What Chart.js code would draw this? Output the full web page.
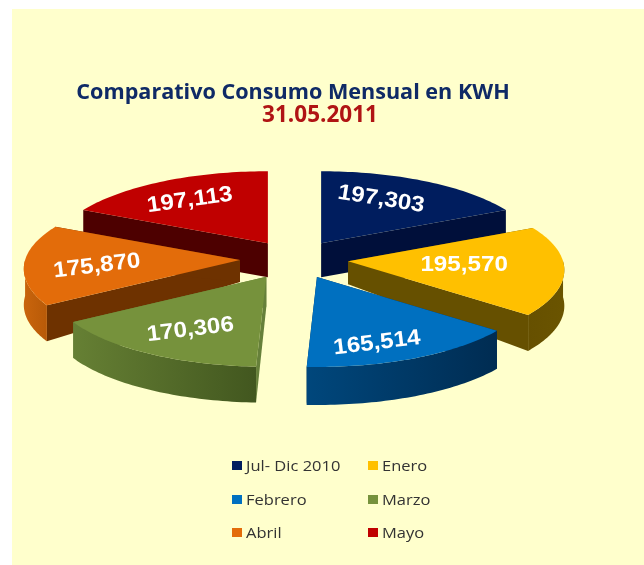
<!DOCTYPE html>
<html><head><meta charset="utf-8">
<style>
html,body{margin:0;padding:0;background:#fff;width:644px;height:565px;overflow:hidden}
#panel{position:absolute;left:12px;top:9px;right:0;bottom:0;background:#ffffcc}
#wrap{position:absolute;left:0;top:0;width:644px;height:565px}
#legend{position:absolute;left:0;top:0;font:15px "Open Sans",sans-serif;color:#333}
.it{position:absolute;white-space:nowrap;line-height:18px;transform:scaleX(1.1);transform-origin:0 50%}
.sw{position:absolute;width:10px;height:9px}
</style>
</head><body>
<div id="panel"></div>
<div id="wrap"><canvas id="c" width="644" height="565"></canvas></div>
<div id="legend"></div>
<script src="https://cdn.jsdelivr.net/npm/chart.js@4/dist/chart.umd.min.js"></script>
<script>
const categories = ["Jul- Dic 2010","Enero","Febrero","Marzo","Abril","Mayo"];
const consumo = [197303,195570,165514,170306,175870,197113];
const colores = ["#001d5e","#ffc000","#0070c0","#76923c","#e36c0a","#c00000"];
const chartTitle = "Comparativo Consumo Mensual en KWH";
const chartSubtitle = "31.05.2011";

// 3D look: perspective projection relative to the pie's outer radius
const radioX = 1.043, radioY = 0.393, perspective = 0.11;
const explode = [0.2425,0.262,0.262,0.271,0.265,0.2425];
const tiltY = 0.37;
const depthApex = [34,23,30,30,22,34];
const depthRim = [34,36,38,36,36,34];
const drawOrder = [0,5,4,1,3,2];
const faceColor = ["#000f3a","#665000","#00305a","#66803a","#6e3200","#4d0000"];
const wallStops = [
  ["#000f3a","#000f3a"],["#665000","#6a5400"],["#00477c","#002c52"],
  ["#668034","#42571f"],["#c8640c","#b85a08"],["#4d0000","#4d0000"]];
const labelDX = [60,116,60,-76,-143,-78];
const labelDY = [-44,4,66,53,6,-43];
const labelRot = [9,0,-7,-7,-7,-8];

const pie3d = {
  id:"pie3d",
  afterLayout(chart){
    chart.boxes.forEach(b=>{
      if(!b.options||b.options.text===undefined) return;
      if(b.options.text===chartTitle){ b.left=0;b.right=586;b.top=79.5; }
      if(b.options.text===chartSubtitle){ b.left=0;b.right=640;b.top=102.5; }
    });
  },
  beforeDatasetDraw(chart,args){
    const ctx=chart.ctx, arcs=chart.getDatasetMeta(args.index).data;
    drawOrder.forEach(i=>{
      const el=arcs[i], R=el.outerRadius, s=el.startAngle, e=el.endAngle, m=(s+e)/2;
      const d=explode[i]*R;
      const cx=el.x+Math.cos(m)*d, cy=el.y+Math.sin(m)*d*tiltY;
      const k=t=>1+perspective*Math.sin(t);
      const px=t=>cx+radioX*R*Math.cos(t)*k(t), py=t=>cy+radioY*R*Math.sin(t)*k(t);
      const dA=depthApex[i], dR=depthRim[i];
      const trace=(t0,t1,dy)=>{
        const n=48;
        for(let j=0;j<=n;j++){const t=t0+(t1-t0)*j/n;ctx.lineTo(px(t),py(t)+dy);}
      };
      ctx.save();
      ctx.fillStyle=faceColor[i];
      [s,e].forEach(t=>{
        ctx.beginPath();ctx.moveTo(cx,cy);ctx.lineTo(px(t),py(t));
        ctx.lineTo(px(t),py(t)+dR);ctx.lineTo(cx,cy+dA);ctx.closePath();ctx.fill();
      });
      const w0=Math.max(s,0), w1=Math.min(e,Math.PI);
      if(w1>w0){
        const g=ctx.createLinearGradient(px(w1),0,px(w0),0);
        g.addColorStop(0,wallStops[i][0]);g.addColorStop(1,wallStops[i][1]);
        ctx.fillStyle=g;
        ctx.beginPath();trace(w0,w1,0);trace(w1,w0,dR);ctx.closePath();ctx.fill();
      }
      ctx.fillStyle=colores[i];
      ctx.beginPath();ctx.moveTo(cx,cy);trace(s,e,0);ctx.closePath();ctx.fill();
      ctx.restore();
    });
    arcs.forEach((el,i)=>{
      const R=el.outerRadius,m=(el.startAngle+el.endAngle)/2,d=explode[i]*R;
      const cx=el.x+Math.cos(m)*d, cy=el.y+Math.sin(m)*d*tiltY;
      ctx.save();
      ctx.translate(cx+labelDX[i],cy+labelDY[i]);
      ctx.rotate(labelRot[i]*Math.PI/180);
      ctx.scale(1.1,1);
      ctx.font='bold 22px "Liberation Sans",Arial,sans-serif';
      ctx.fillStyle="#fff";ctx.textAlign="center";ctx.textBaseline="middle";
      ctx.fillText(consumo[i].toLocaleString("en-US"),0,0);
      ctx.restore();
    });
    return false;
  }
};

new Chart(document.getElementById("c"),{
  type:"pie",
  data:{labels:categories,datasets:[{data:consumo,backgroundColor:colores,borderWidth:0}]},
  plugins:[pie3d],
  options:{
    responsive:false,animation:false,
    layout:{padding:{right:55,bottom:100}},
    plugins:{
      legend:{display:false},tooltip:{enabled:false},
      title:{display:true,text:chartTitle,color:"#0f2a66",padding:0,
        font:{family:'"Open Sans",sans-serif',size:21.6,weight:"bold"}},
      subtitle:{display:true,text:chartSubtitle,color:"#b01414",padding:0,
        font:{family:'"Open Sans",sans-serif',size:22.5,weight:"bold"}}
    }
  }
});

// two-column legend
const lg=document.getElementById("legend");
const colX=[232,368], rowY=[465,499,532];
categories.forEach((name,i)=>{
  const c=i%2,r=Math.floor(i/2);
  const sw=document.createElement("div");sw.className="sw";
  sw.style.cssText=`left:${colX[c]}px;top:${rowY[r]-4}px;background:${colores[i]}`;
  const t=document.createElement("div");t.className="it";t.textContent=name;
  t.style.cssText=`left:${colX[c]+14}px;top:${rowY[r]-9}px`;
  lg.appendChild(sw);lg.appendChild(t);
});
</script>
</body></html>
